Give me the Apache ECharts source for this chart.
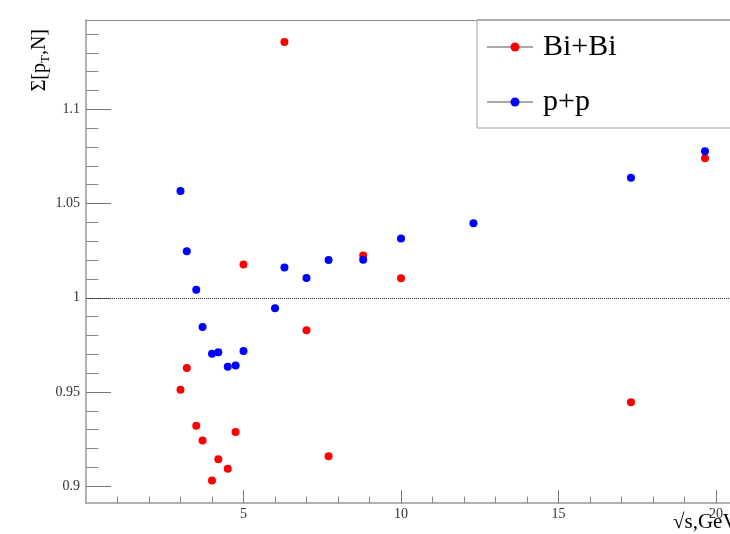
<!DOCTYPE html>
<html>
<head>
<meta charset="utf-8">
<script src="https://cdn.jsdelivr.net/npm/echarts@6/dist/echarts.min.js"></script>
<style>html,body{margin:0;padding:0;background:#fff;}#c{width:730px;height:534px;}</style>
</head>
<body>
<div id="c"></div>
<script>
// ---- data ----
const biBiX = [3.0, 3.2, 3.5, 3.7, 4.0, 4.2, 4.5, 4.75, 5.0, 6.3, 7.0, 7.7, 8.8, 10.0, 17.3, 19.65];
const biBiY = [0.9512, 0.9628, 0.9321, 0.9242, 0.9030, 0.9143, 0.9093, 0.9288, 1.0176, 1.1357, 0.9828, 0.9159, 1.0225, 1.0103, 0.9446, 1.0740];
const ppX = [3.0, 3.2, 3.5, 3.7, 4.0, 4.2, 4.5, 4.75, 5.0, 6.0, 6.3, 7.0, 7.7, 8.8, 10.0, 12.3, 17.3, 19.65];
const ppY = [1.0567, 1.0247, 1.0043, 0.9845, 0.9703, 0.9711, 0.9634, 0.9640, 0.9718, 0.9944, 1.0160, 1.0105, 1.0201, 1.0202, 1.0314, 1.0395, 1.0637, 1.0777];
const seriesNames = ['Bi+Bi', 'p+p'];
const xMajorTicks = [5, 10, 15, 20];
const xMinorTicks = [1, 2, 3, 4, 6, 7, 8, 9, 11, 12, 13, 14, 16, 17, 18, 19];
const yMajorTicks = [0.9, 0.95, 1.0, 1.05, 1.1];
const yMinorTicks = [0.91, 0.92, 0.93, 0.94, 0.96, 0.97, 0.98, 0.99, 1.01, 1.02, 1.03, 1.04, 1.06, 1.07, 1.08, 1.09, 1.11, 1.12, 1.13, 1.14];
const referenceLevel = 1.0;

// visible window of the frame (the frame continues past the right edge of the picture)
const X_MIN = 0, X_MAX = 20.444, Y_MIN = 0.8911, Y_MAX = 1.1474;
const FONT = '"Liberation Serif", "DejaVu Serif", serif';

const chart = echarts.init(document.getElementById('c'), null, {renderer: 'canvas'});

function pairs(xs, ys) { return xs.map((x, i) => [x, ys[i]]); }

const option = {
  animation: false,
  backgroundColor: '#fff',
  grid: {left: 86, top: 20, right: 0, bottom: 31, show: false},
  xAxis: [{
    type: 'value', min: X_MIN, max: X_MAX, position: 'bottom',
    axisLine: {show: true, lineStyle: {color: '#999', width: 1.5}},
    axisTick: {show: true, inside: true, length: 13, customValues: xMajorTicks, lineStyle: {color: '#777'}},
    axisLabel: {show: true, customValues: xMajorTicks, margin: 4, fontFamily: FONT, fontSize: 14, color: '#333'},
    splitLine: {show: false}
  }, {
    type: 'value', min: X_MIN, max: X_MAX, position: 'bottom',
    axisLine: {show: false},
    axisTick: {show: true, inside: true, length: 6.5, customValues: xMinorTicks, lineStyle: {color: '#888'}},
    axisLabel: {show: false},
    splitLine: {show: false}
  }, {
    type: 'value', min: X_MIN, max: X_MAX, position: 'top',
    axisLine: {show: true, lineStyle: {color: '#8c8c8c', width: 1}},
    axisTick: {show: false}, axisLabel: {show: false}, splitLine: {show: false}
  }],
  yAxis: [{
    type: 'value', min: Y_MIN, max: Y_MAX, position: 'left',
    axisLine: {show: true, lineStyle: {color: '#999', width: 1.5}},
    axisTick: {show: true, inside: true, length: 25, customValues: yMajorTicks, lineStyle: {color: '#777'}},
    axisLabel: {show: true, customValues: yMajorTicks, margin: 6, fontFamily: FONT, fontSize: 14, color: '#333',
      formatter: v => String(Math.round(v * 100) / 100)},
    splitLine: {show: false}
  }, {
    type: 'value', min: Y_MIN, max: Y_MAX, position: 'left',
    axisLine: {show: false},
    axisTick: {show: true, inside: true, length: 12.5, customValues: yMinorTicks, lineStyle: {color: '#888'}},
    axisLabel: {show: false},
    splitLine: {show: false}
  }],
  legend: {
    orient: 'vertical', left: 505.5, top: 27, padding: 5,
    itemWidth: 9, itemHeight: 9, itemGap: 25, icon: 'circle',
    data: seriesNames,
    textStyle: {fontFamily: FONT, fontSize: 30, color: '#000', lineHeight: 30, padding: [0, 0, 0, 18.5]},
    z: 10
  },
  graphic: [
    {type: 'rect', z: 5, shape: {x: 477, y: 20, width: 300, height: 108}, style: {fill: '#fff', stroke: '#a0a0a0', lineWidth: 1}},
    {type: 'line', z: 6, shape: {x1: 477, y1: 20, x2: 730, y2: 20}, style: {stroke: '#8c8c8c', lineWidth: 1}},
    {type: 'line', z: 6, shape: {x1: 487, y1: 47, x2: 533, y2: 47}, style: {stroke: '#555', lineWidth: 1}},
    {type: 'line', z: 6, shape: {x1: 487, y1: 102, x2: 533, y2: 102}, style: {stroke: '#555', lineWidth: 1}},
    {type: 'text', z: 6, x: 40, y: 29, rotation: Math.PI / 2,
      style: {text: 'Σ[p{s|T},N]', fontFamily: FONT, fontSize: 20, fill: '#000', align: 'right', verticalAlign: 'middle',
        lineHeight: 24,
        rich: {s: {fontFamily: FONT, fontSize: 13, lineHeight: 13, verticalAlign: 'bottom', fill: '#000'}}}},
    {type: 'text', z: 6, x: 673, y: 522,
      style: {text: '√s,GeV', fontFamily: FONT, fontSize: 21, fill: '#000', align: 'left', verticalAlign: 'middle'}}
  ],
  series: [{
    name: seriesNames[0], type: 'scatter', xAxisIndex: 0, yAxisIndex: 0,
    symbol: 'circle', symbolSize: 8, itemStyle: {color: '#ff0000', opacity: 1},
    data: pairs(biBiX, biBiY), z: 3,
    markLine: {
      silent: true, symbol: ['none', 'none'], label: {show: false},
      lineStyle: {type: [1, 1], color: '#333', width: 1},
      data: [{yAxis: referenceLevel}]
    }
  }, {
    name: seriesNames[1], type: 'scatter', xAxisIndex: 0, yAxisIndex: 0,
    symbol: 'circle', symbolSize: 8, itemStyle: {color: '#0000ff', opacity: 1},
    data: pairs(ppX, ppY), z: 3
  }]
};
chart.setOption(option);
</script>
</body>
</html>
